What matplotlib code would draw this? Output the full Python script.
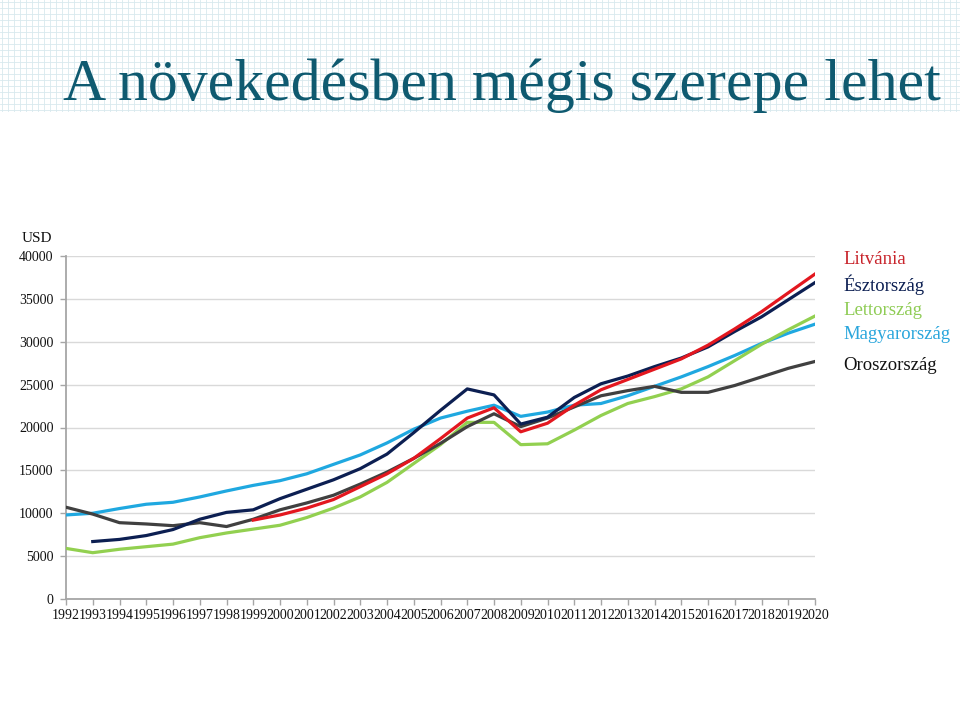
import numpy as np
import matplotlib
matplotlib.use("Agg")
import matplotlib.pyplot as plt

nan = np.nan
years = list(range(1992, 2021))
series_names = ["Litvánia", "Észtország", "Lettország", "Magyarország", "Oroszország"]

lithuania = [nan] * 7 + [9200, 9800, 10600, 11600, 13100, 14600, 16400, 18700, 21100, 22300,
                         19500, 20500, 22600, 24400, 25600, 26800, 28000, 29600, 31500, 33500,
                         35700, 37900]
estonia = [nan, 6700, 6950, 7400, 8100, 9300, 10100, 10400, 11700, 12800, 13900, 15200, 16900,
           19400, 22000, 24500, 23800, 20400, 21200, 23500, 25100, 26000, 27100, 28100, 29400,
           31200, 32900, 34900, 36900]
latvia = [5900, 5400, 5800, 6100, 6400, 7150, 7700, 8150, 8600, 9500, 10600, 11900, 13600, 15800,
          18000, 20600, 20600, 18000, 18100, 19700, 21400, 22800, 23600, 24500, 25900, 27800,
          29700, 31400, 33000]
hungary = [9800, 10000, 10550, 11050, 11280, 11900, 12600, 13250, 13800, 14600, 15700, 16800,
           18200, 19800, 21100, 21900, 22600, 21300, 21800, 22600, 22800, 23700, 24800, 25900,
           27100, 28400, 29800, 31000, 32050]
russia = [10700, 9900, 8900, 8750, 8550, 8900, 8450, 9300, 10400, 11200, 12100, 13400, 14800,
          16400, 18150, 20100, 21600, 20100, 21100, 22400, 23700, 24300, 24800, 24100, 24100,
          24900, 25900, 26900, 27700]

yticks = [0, 5000, 10000, 15000, 20000, 25000, 30000, 35000, 40000]

line_colors = {"Litvánia": "#e3171f", "Észtország": "#0c1f52", "Lettország": "#92d050",
               "Magyarország": "#1fa8e0", "Oroszország": "#404040"}
text_colors = {"Litvánia": "#c8242b", "Észtország": "#0c1f52", "Lettország": "#8fcc55",
               "Magyarország": "#2aa6dc", "Oroszország": "#111111"}
data = {"Litvánia": lithuania, "Észtország": estonia, "Lettország": latvia,
        "Magyarország": hungary, "Oroszország": russia}

FONT = "Liberation Serif"
W, H = 960, 716
fig = plt.figure(figsize=(W / 100, H / 100), dpi=100)
fig.patch.set_facecolor("white")

# decorative grid background at the top
bg = fig.add_axes([0, 1 - 112 / H, 1, 112 / H])
bg.set_xlim(0, W)
bg.set_ylim(112, 0)
bg.axis("off")
for gx in np.arange(2, W, 6):
    bg.axvline(gx, color="#d8e9ee", lw=0.6)
for gy in np.arange(2, 112, 6):
    bg.axhline(gy, color="#d8e9ee", lw=0.6)

fig.text(63 / W, 1 - 100 / H, "A növekedésben mégis szerepe lehet", fontsize=43,
         family=FONT, color="#0f5a70", ha="left", va="baseline")

ax = fig.add_axes([66 / W, 1 - 599 / H, (815 - 66) / W, (599 - 256) / H])
ax.set_facecolor("none")
ax.set_xlim(years[0], years[-1])
ax.set_ylim(0, 40000)

for name in ["Magyarország", "Lettország", "Oroszország", "Észtország", "Litvánia"]:
    ax.plot(years, data[name], color=line_colors[name], lw=2.3, solid_joinstyle="round",
            zorder=3)

ax.set_yticks(yticks)
ax.set_yticklabels([str(v) for v in yticks])
ax.set_xticks(years)
ax.set_xticklabels([str(y) for y in years])
ax.grid(axis="y", color="#d9d9d9", lw=1)
ax.set_axisbelow(True)
for s in ["top", "right"]:
    ax.spines[s].set_visible(False)
for s in ["left", "bottom"]:
    ax.spines[s].set_color("#a6a6a6")
    ax.spines[s].set_linewidth(1.3)
ax.tick_params(axis="both", direction="out", length=4, color="#a6a6a6", width=1,
               labelsize=10, labelcolor="#111111")
ax.tick_params(axis="y", pad=5)
ax.tick_params(axis="x", pad=3)
for lab in ax.get_xticklabels() + ax.get_yticklabels():
    lab.set_family(FONT)

fig.text(22 / W, 1 - 238 / H, "USD", fontsize=11, family=FONT, color="#111111",
         ha="left", va="center")

legend_y = [259, 285, 310, 335, 366]
for name, ly in zip(series_names, legend_y):
    fig.text(843 / W, 1 - ly / H, name, fontsize=13.5, family=FONT, color=text_colors[name],
             ha="left", va="center")

fig.savefig("out.png", dpi=100, facecolor="white")
